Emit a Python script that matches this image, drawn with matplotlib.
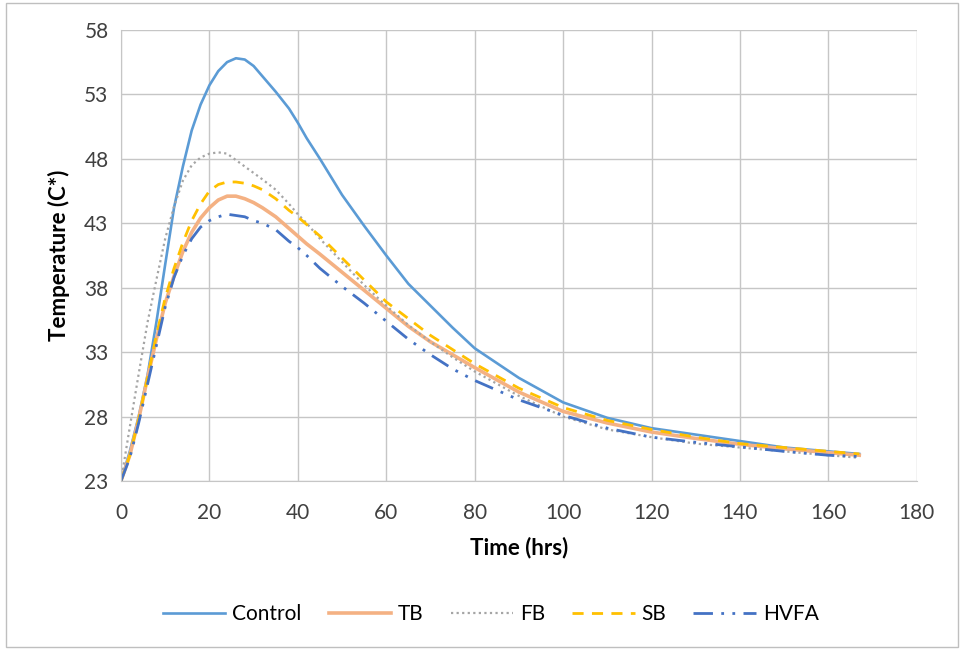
import matplotlib
matplotlib.use("Agg")
import matplotlib.pyplot as plt
from matplotlib.patches import Rectangle

plt.rcParams["font.family"] = ["Lato", "DejaVu Sans"]

# hours
time_hrs = [0, 2, 4, 6, 8, 10, 12, 14, 16, 18, 20, 22, 24, 26, 28, 30, 32, 35, 38, 40, 42,
            45, 50, 55, 60, 65, 70, 75, 80, 90, 100, 110, 120, 130, 140, 150, 160, 167]

control = [23, 25.3, 28.0, 31.2, 35.3, 39.8, 44.2, 47.4, 50.2, 52.2, 53.7, 54.8, 55.5, 55.8,
           55.7, 55.2, 54.4, 53.2, 51.9, 50.8, 49.6, 48.0, 45.2, 42.8, 40.5, 38.3, 36.6,
           34.9, 33.3, 31.0, 29.1, 27.9, 27.1, 26.6, 26.1, 25.6, 25.3, 25.1]
tb = [23, 25.0, 27.8, 31.0, 34.0, 36.8, 38.9, 40.8, 42.3, 43.4, 44.2, 44.8, 45.1, 45.1,
      44.9, 44.6, 44.2, 43.5, 42.6, 42.0, 41.4, 40.6, 39.2, 37.8, 36.4, 35.0, 33.8,
      32.8, 31.8, 29.9, 28.4, 27.5, 26.8, 26.3, 25.85, 25.5, 25.2, 25.0]
fb = [23, 27.2, 31.3, 35.3, 38.6, 41.8, 44.3, 46.3, 47.5, 48.1, 48.4, 48.5, 48.4, 47.9,
      47.4, 46.9, 46.4, 45.6, 44.5, 43.7, 43.0, 41.8, 40.0, 38.2, 36.6, 35.1, 33.8,
      32.6, 31.5, 29.6, 28.0, 27.0, 26.4, 25.9, 25.6, 25.3, 25.0, 24.8]
sb = [23, 25.0, 27.8, 31.0, 34.3, 37.2, 39.5, 41.5, 43.2, 44.5, 45.5, 46.0, 46.2, 46.2,
      46.1, 45.9, 45.6, 44.9, 44.0, 43.5, 42.9, 42.0, 40.3, 38.6, 36.9, 35.6, 34.3,
      33.2, 32.1, 30.2, 28.7, 27.7, 27.0, 26.4, 25.9, 25.6, 25.3, 25.1]
hvfa = [23, 24.8, 27.5, 30.5, 33.5, 36.5, 38.8, 40.5, 41.8, 42.7, 43.2, 43.5, 43.7, 43.6,
        43.5, 43.2, 43.0, 42.5, 41.6, 41.1, 40.5, 39.5, 38.1, 36.8, 35.4, 34.0, 32.8,
        31.7, 30.8, 29.3, 28.1, 27.1, 26.4, 26.0, 25.65, 25.3, 25.0, 24.9]

x_ticks = list(range(0, 181, 20))
y_ticks = list(range(23, 59, 5))

fig = plt.figure(figsize=(9.64, 6.5), dpi=100)
ax = fig.add_axes([0.1255, 0.26, 0.8255, 0.694])

ax.plot(time_hrs, control, color="#5B9BD5", lw=1.9, label="Control")
ax.plot(time_hrs, tb, color="#F4B183", lw=2.6, label="TB")
ax.plot(time_hrs, fb, color="#A5A5A5", lw=1.6, linestyle=(0, (1, 1.5)), label="FB")
ax.plot(time_hrs, sb, color="#FFC000", lw=2.0, linestyle=(0, (4, 3)), label="SB")
ax.plot(time_hrs, hvfa, color="#4472C4", lw=2.0,
        linestyle=(0, (7, 3, 1, 3, 1, 3)), label="HVFA")

ax.set_xlim(0, 180)
ax.set_ylim(23, 58)
ax.set_xticks(x_ticks)
ax.set_yticks(y_ticks)
ax.grid(True, color="#c6c6c6", lw=1.0)
ax.set_axisbelow(True)
for side in ["top", "right"]:
    ax.spines[side].set_visible(False)
for side in ["left", "bottom"]:
    ax.spines[side].set_color("#c6c6c6")
ax.tick_params(length=0, labelsize=15, colors="#404040")
ax.tick_params(axis="x", pad=16)
ax.tick_params(axis="y", pad=9)

ax.set_xlabel("Time (hrs)", fontsize=16, fontweight="bold", color="#000000", labelpad=10)
ax.set_ylabel("Temperature (C*)", fontsize=16, fontweight="bold", color="#000000", labelpad=10)

fig.legend(loc="center", bbox_to_anchor=(0.509, 0.055), ncol=5, frameon=False,
           fontsize=15, handlelength=3.0, columnspacing=1.3, handletextpad=0.33)

fig.patches.append(Rectangle((0.006, 0.005), 0.988, 0.99, transform=fig.transFigure,
                             fill=False, edgecolor="#bfbfbf", lw=1.0))

fig.savefig("out.png", dpi=100, facecolor="white")
